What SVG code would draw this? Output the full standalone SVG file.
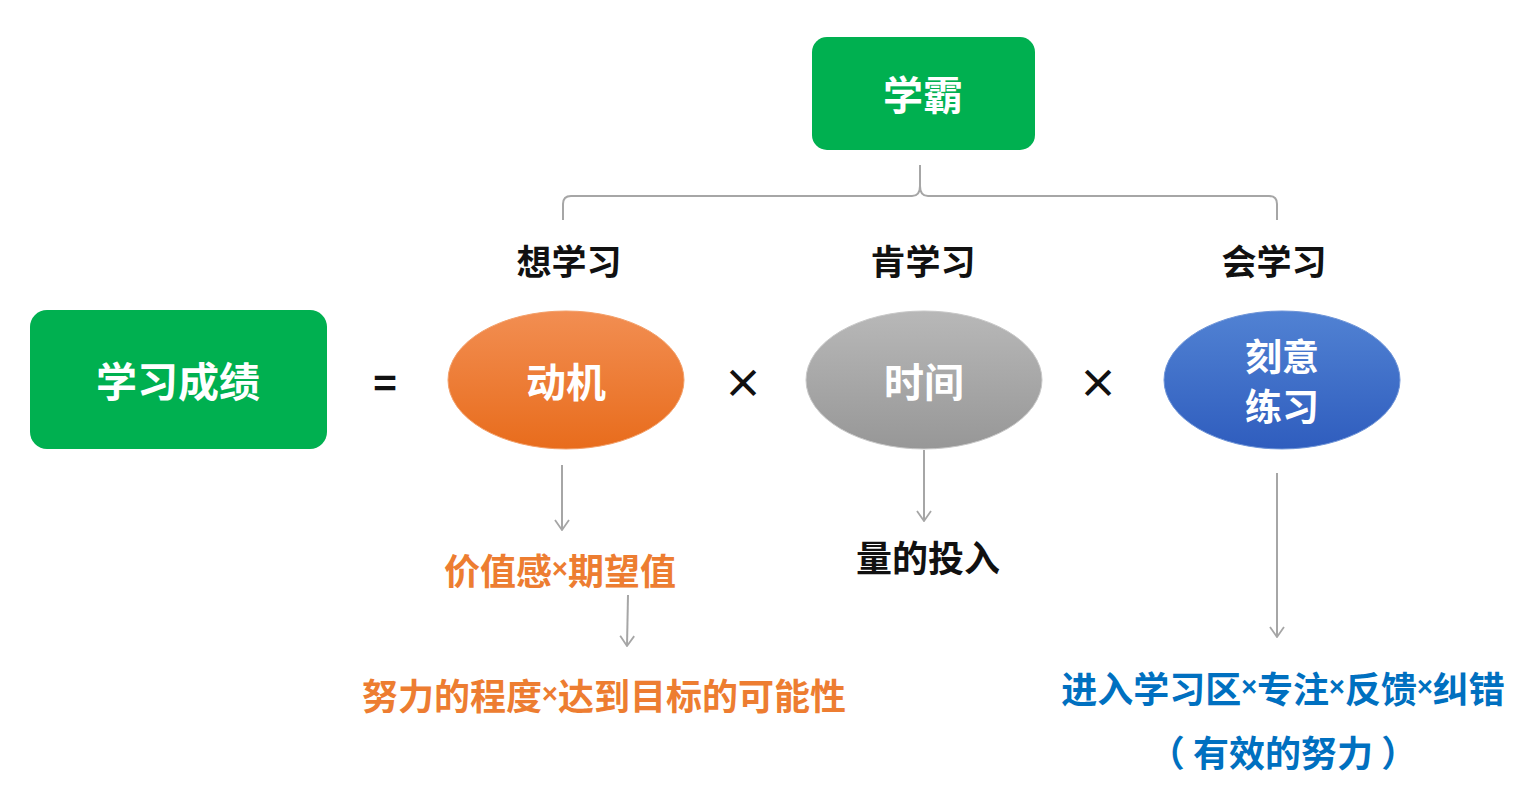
<svg xmlns="http://www.w3.org/2000/svg" width="1538" height="800" viewBox="0 0 1538 800">
<defs>
<linearGradient id="gO" x1="0" y1="0" x2="0" y2="1"><stop offset="0" stop-color="#F28E52"/><stop offset="1" stop-color="#E86C1C"/></linearGradient>
<linearGradient id="gG" x1="0" y1="0" x2="0" y2="1"><stop offset="0" stop-color="#B8B8B8"/><stop offset="1" stop-color="#979797"/></linearGradient>
<linearGradient id="gB" x1="0" y1="0" x2="0" y2="1"><stop offset="0" stop-color="#5182D3"/><stop offset="1" stop-color="#2F5DBE"/></linearGradient>
<marker id="arr" viewBox="0 0 12 16" refX="11" refY="8" markerWidth="12" markerHeight="16" markerUnits="userSpaceOnUse" orient="auto">
<path d="M1,1 L11,8 L1,15" fill="none" stroke="#A6A6A6" stroke-width="1.8"/>
</marker>
</defs>
<style>
text{font-family:"Noto Sans CJK SC","Noto Sans",sans-serif;font-weight:bold;text-anchor:middle;dominant-baseline:central}
.x{font-family:"Liberation Sans",sans-serif;font-size:27px}
.w{fill:#FFFFFF;font-size:41px}
.k{fill:#111111;font-size:35px}
.o{fill:#ED7D31;font-size:36px}
.b{fill:#0070C0;font-size:36px}
.op{fill:#111111;font-size:40px}
.ln{fill:none;stroke:#A6A6A6;stroke-width:2}
</style>
<rect width="1538" height="800" fill="#FFFFFF"/>
<g id="connectors">
<path class="ln" d="M563,220 V204 Q563,196 571,196 H912 Q920,196 920,186 V165 Q920,186 920,186 Q920,196 928,196 H1269 Q1277,196 1277,204 V220"/>
<line class="ln" x1="562" y1="465" x2="562" y2="530" marker-end="url(#arr)"/>
<line class="ln" x1="924" y1="450" x2="924" y2="521" marker-end="url(#arr)"/>
<line class="ln" x1="628" y1="595" x2="627" y2="646" marker-end="url(#arr)"/>
<line class="ln" x1="1277" y1="473" x2="1277" y2="637" marker-end="url(#arr)"/>
</g>
<g id="xueba">
<rect x="812" y="37" width="223" height="113" rx="15" fill="#00B050"/>
<text class="w" x="923" y="93" style="font-size:40px">学霸</text>
</g>
<g id="labels">
<text class="k" x="569" y="259">想学习</text>
<text class="k" x="923" y="259">肯学习</text>
<text class="k" x="1274" y="259">会学习</text>
</g>
<g id="chengji">
<rect x="30" y="310" width="297" height="139" rx="17" fill="#00B050"/>
<text class="w" x="178" y="379">学习成绩</text>
</g>
<g id="ops">
<text class="op" x="385" y="381">=</text>
<text class="op" x="743" y="381">×</text>
<text class="op" x="1098" y="381">×</text>
</g>
<g id="dongji">
<ellipse cx="566" cy="380" rx="118" ry="69" fill="url(#gO)" stroke="#F3A06A" stroke-width="1"/>
<text class="w" x="566" y="380" style="font-size:40px">动机</text>
</g>
<g id="shijian">
<ellipse cx="924" cy="380" rx="118" ry="69" fill="url(#gG)" stroke="#C8C8C8" stroke-width="1"/>
<text class="w" x="924" y="380" style="font-size:40px">时间</text>
</g>
<g id="keyi">
<ellipse cx="1282" cy="380" rx="118" ry="69" fill="url(#gB)" stroke="#6F95D8" stroke-width="1"/>
<text class="w" x="1282" y="355" style="font-size:37px">刻意</text>
<text class="w" x="1282" y="405" style="font-size:37px">练习</text>
</g>
<g id="jiazhi">
<text class="o" x="560" y="569">价值感<tspan class="x">×</tspan>期望值</text>
</g>
<g id="nuli">
<text class="o" x="604" y="694">努力的程度<tspan class="x">×</tspan>达到目标的可能性</text>
</g>
<g id="liang">
<text class="k" x="928" y="556" style="font-size:36px">量的投入</text>
</g>
<g id="jinru">
<text class="b" x="1283" y="687">进入学习区<tspan class="x">×</tspan>专注<tspan class="x">×</tspan>反馈<tspan class="x">×</tspan>纠错</text>
<text class="b" x="1283" y="751">（ 有效的努力 ）</text>
</g>
</svg>
